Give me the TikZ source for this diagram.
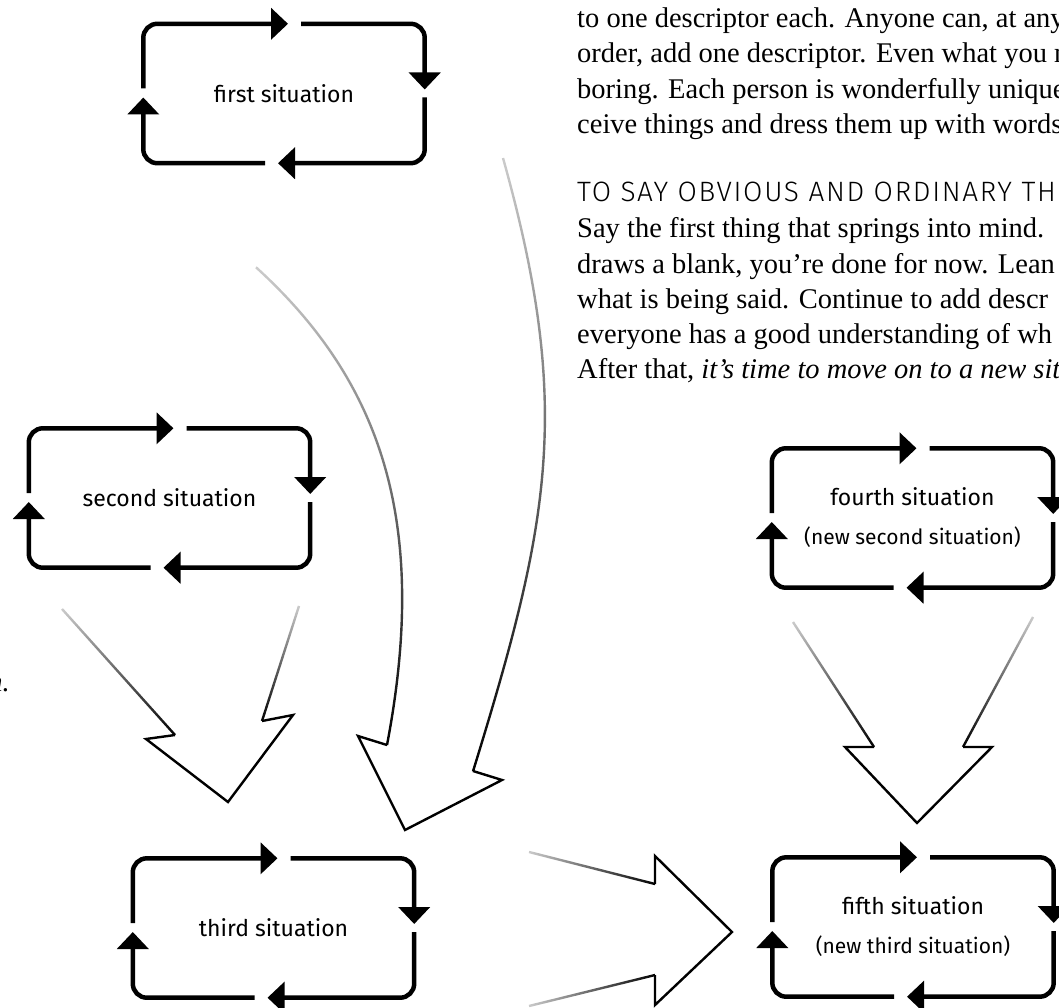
\documentclass[tikz,border=0pt]{standalone}
\usepackage{fontspec}
\setmainfont{Liberation Serif}
\newfontfamily\sitfont{Fira Sans}[UprightFont={* Light}]
\newfontfamily\labelfont{Fira Sans}
\usepackage{tikz}
\usetikzlibrary{arrows.meta}
\usetikzlibrary{fadings}
\usetikzlibrary{calc}

\tikzfading[name=tail fade, top color=transparent!80, middle color=transparent!0, bottom color=transparent!0]
\tikzfading[name=tail fade left, left color=transparent!80, middle color=transparent!0, right color=transparent!0]

\newcommand{\subfont}{\fontsize{21}{25}\selectfont}
\newcommand{\loopframe}[1]{%
  \draw[loopline] ([yshift=5pt]#1.west) |- ([xshift=4pt]#1.north);
  \draw[loopline] ([xshift=17pt]#1.north) -| ([yshift=4pt]#1.east);
  \draw[loopline] ([yshift=-4pt]#1.east) |- ([xshift=-6pt]#1.south);
  \draw[loopline] ([xshift=-19pt]#1.south) -| ([yshift=-4pt]#1.west);
}

\tikzset{
  situation/.style={minimum width=281pt, minimum height=139pt, inner sep=0pt, align=center, font=\labelfont\fontsize{23}{39}\selectfont},
  loopline/.style={line width=4.5pt, rounded corners=14pt, -{Triangle[length=17pt,width=31pt]}},
  bigline/.style={line width=2.4pt},
  fadedline/.style={bigline, path fading=tail fade},
  fadedlineh/.style={bigline, path fading=tail fade left},
  bodytext/.style={anchor=north west, inner sep=0pt, align=left, font=\fontsize{28.5}{35.3}\selectfont},
}

\begin{document}
\begin{tikzpicture}[x=1pt,y=-1pt]
\path[use as bounding box, fill=white] (0,0) rectangle (1059,1008);

% the page text beside the diagram
\node[bodytext] (para1) at (577,7.5) {to one descriptor each. Anyone can, at any\\
order, add one descriptor. Even what you m\\
boring. Each person is wonderfully unique\\
ceive things and dress them up with words};
\node[anchor=base west, inner sep=0pt, font=\sitfont\addfontfeature{LetterSpace=6}\fontsize{28}{34}\selectfont] (heading) at (577,202) {TO SAY OBVIOUS AND ORDINARY TH};
\node[bodytext] (para2) at (577,217.5) {Say the first thing that springs into mind.\\
draws a blank, you’re done for now. Lean\\
what is being said. Continue to add descr\\
everyone has a good understanding of wh\\
After that, \textit{it’s time to move on to a new sit}};
\node[anchor=base east, inner sep=0pt, font=\fontsize{28.5}{35.3}\selectfont\itshape] (margin) at (10,691) {n.};

% the five situations
\node[situation] (first) at (284,93.5) {first situation};
\node[situation] (second) at (169.5,498) {second situation};
\node[situation] (third) at (273.5,928) {third situation};
\node[situation] (fourth) at (912.5,518) {fourth situation\\{\subfont (new second situation)}};
\node[situation] (fifth) at (913,927) {fifth situation\\{\subfont (new third situation)}};
\loopframe{first}
\loopframe{second}
\loopframe{third}
\loopframe{fourth}
\loopframe{fifth}

% first -> third, curved
\coordinate (tipA) at (405,830);
\draw[fadedline] (256,267) .. controls (380,380) and (430,520) .. (387,745);
\draw[fadedline] (503,157) .. controls (573,407) and (550,521) .. (473,771);
\draw[bigline] (387,745) -- (358,736) -- (tipA) -- (502,780) -- (473,771);

% second -> third
\coordinate (tipB) at (228,802);
\draw[fadedline] (62,609) -- (175,735);
\draw[fadedline] (299,606) -- (262,721);
\draw[bigline] (175,735) -- (146,739) -- (tipB) -- (293,715) -- (262,721);

% fourth -> fifth
\coordinate (tipC) at (917,823);
\draw[fadedline] (793,622) -- (874,747);
\draw[fadedline] (1033,617) -- (963,747);
\draw[bigline] (874,747) -- (845,747) -- (tipC) -- (992,747) -- (963,747);

% third -> fifth
\coordinate (tipD) at (732,932);
\draw[fadedlineh] (529,852) -- (655,884);
\draw[fadedlineh] (529,1006) -- (655,975);
\draw[bigline] (655,884) -- (655,856) -- (tipD) -- (655,1005) -- (655,975);
\end{tikzpicture}
\end{document}
